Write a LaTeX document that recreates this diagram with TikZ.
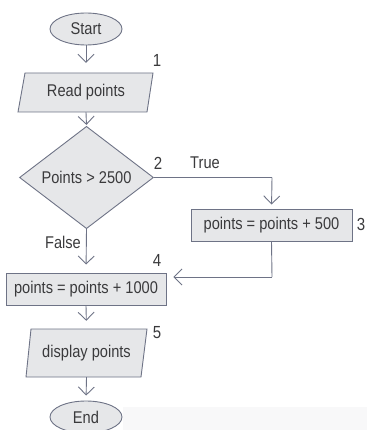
\documentclass[tikz,border=0pt]{standalone}
\usepackage{fontspec}
\setmainfont{Liberation Sans}[FakeStretch=0.86]
\usetikzlibrary{shapes.geometric,arrows.meta}
\definecolor{boxfill}{HTML}{E6E7E9}
\definecolor{boxline}{HTML}{6E7386}
\definecolor{ink}{HTML}{3A3A3C}
\definecolor{paperband}{HTML}{F8F8F9}
\tikzset{
  every node/.style={text=ink, font=\fontsize{17}{20}\selectfont},
  shapeline/.style={draw=boxline, fill=boxfill, line width=0.9pt},
  terminal/.style={shapeline, ellipse, minimum width=72pt, minimum height=32pt, inner sep=0pt},
  procbox/.style={shapeline, rectangle, minimum height=32pt, inner sep=0pt},
  decision/.style={shapeline, diamond, minimum width=134pt, minimum height=90pt, inner sep=0pt},
  plain/.style={inner sep=0pt},
  numlabel/.style={inner sep=0pt, font=\fontsize{17.5}{20}\selectfont},
  flow/.style={draw=boxline, line width=0.9pt, -{Straight Barb[length=8pt, width=16pt, line width=0.9pt]}},
  link/.style={draw=boxline, line width=0.9pt}
}
\begin{document}
\begin{tikzpicture}[x=1pt, y=-1pt]
\useasboundingbox (0,0) rectangle (367,430);
\fill[paperband] (123,407) rectangle (367,430);

% start / end terminals
\node[terminal] (start) at (86,29) {Start};
\node[terminal] (end) at (86,417) {End};

% input parallelogram
\draw[shapeline] (25,73) -- (153,73) -- (147,112) -- (18,112) -- cycle;
\node[plain, minimum width=128pt, minimum height=39pt] (read) at (86,92.5) {Read points};

% decision
\node[decision] (test) at (86.5,177.5) {Points > 2500};

% processing boxes
\node[procbox, minimum width=161pt] (addsmall) at (271.5,225) {points = points + 500};
\node[procbox, minimum width=160pt] (addbig) at (86,289) {points = points + 1000};

% output parallelogram
\draw[shapeline] (31,329) -- (147,329) -- (141,377) -- (26,377) -- cycle;
\node[plain, minimum width=116pt, minimum height=48pt] (show) at (86.5,353) {display points};

% step numbers and branch labels
\node[numlabel] (n1) at (157,60) {1};
\node[numlabel] (n2) at (158,163) {2};
\node[numlabel] (n3) at (361,224) {3};
\node[numlabel] (n4) at (157,260) {4};
\node[numlabel] (n5) at (157,333) {5};
\node[plain] (ltrue) at (205,163) {True};
\node[plain] (lfalse) at (63,242) {False};

% bends of the connectors
\coordinate (c1) at (272,177.5);
\coordinate (c2) at (272,277);

% connectors
\draw[flow, shorten >=10pt] (start.south) -- (read.north);
\draw[flow, shorten >=1pt] (read.south) -- (test.north);
\draw[link] (test.east) -- (c1);
\draw[flow, shorten >=4pt] (c1) -- (addsmall.north);
\draw[flow, shorten >=8pt] (test.south) -- (addbig.north);
\draw[link] (addsmall.south) -- (c2);
\draw[flow, shorten >=7pt] (c2) -- (addbig.east |- c2);
\draw[flow, shorten >=8pt] (addbig.south) -- (show.north);
\draw[flow, shorten >=5pt] (show.south) -- (end.north);
\end{tikzpicture}
\end{document}
